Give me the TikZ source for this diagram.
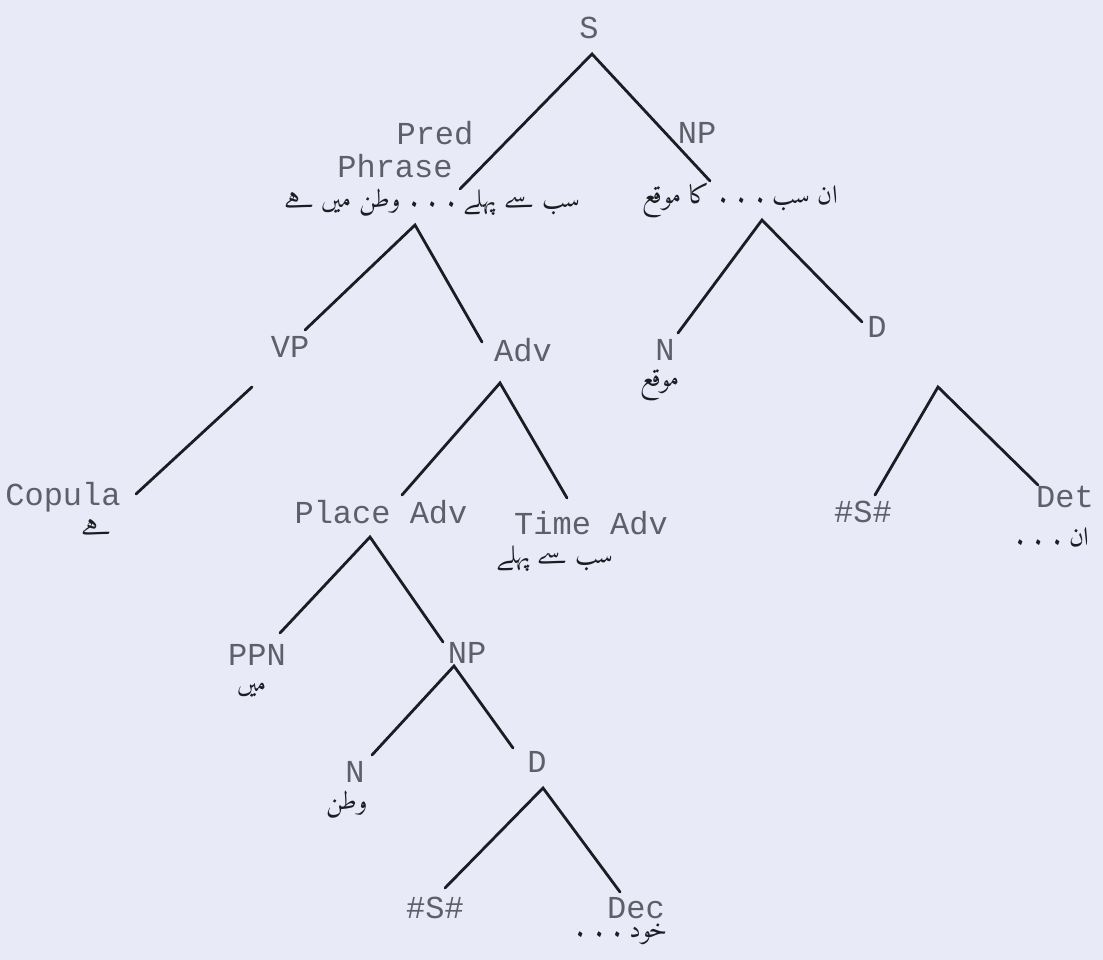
\documentclass[tikz,border=0pt]{standalone}
\usepackage{fontspec}
\TeXXeTstate=1
\newfontfamily\labfont{Liberation Mono}
\IfFontExistsTF{Amiri}{\newfontfamily\urfont[Script=Arabic]{Amiri}}{%
 \IfFontExistsTF{Scheherazade New}{\newfontfamily\urfont[Script=Arabic]{Scheherazade New}}{%
  \IfFontExistsTF{Noto Naskh Arabic}{\newfontfamily\urfont[Script=Arabic]{Noto Naskh Arabic}}{%
   \newfontfamily\urfont[Script=Arabic]{DejaVu Sans}}}}
\definecolor{bgcol}{RGB}{232,234,248}
\definecolor{txtcol}{RGB}{95,95,105}
\definecolor{lncol}{RGB}{28,28,35}
\tikzset{
  lab/.style={font=\labfont\fontsize{32}{34}\selectfont, text=txtcol, inner sep=0pt},
  ur/.style={font=\urfont\fontsize{26}{28}\selectfont, text=lncol, inner sep=0pt},
  branch/.style={line width=2.8pt, draw=lncol, line cap=round}
}
\begin{document}
\begin{tikzpicture}[x=1pt,y=-1pt]
\fill[bgcol] (0,0) rectangle (1103,960);
\useasboundingbox (0,0) rectangle (1103,960);
% labels
\node[lab] (S) at (589,28) {S};
\node[lab] (predA) at (435,133) {Pred};
\node[lab] (predB) at (395,166) {Phrase};
\node[lab] (NPa) at (697,133) {NP};
\node[ur] (uPP) at (432,203) {\beginR سب سے پہلے . . . وطن میں ہے\endR};
\node[ur] (uNP) at (740,200) {\beginR ان سب . . . کا موقع\endR};
\node[lab] (VP) at (290,347) {VP};
\node[lab] (Adv) at (523,350) {Adv};
\node[lab] (Na) at (665,350) {N};
\node[ur] (uNa) at (660,385) {\beginR موقع\endR};
\node[lab] (Da) at (877,327) {D};
\node[lab] (Cop) at (63,497) {Copula};
\node[ur] (uCop) at (97,527) {\beginR ہے\endR};
\node[lab] (PlAdv) at (381,512) {Place Adv};
\node[lab] (TmAdv) at (591,523) {Time Adv};
\node[ur] (uTm) at (555,558) {\beginR سب سے پہلے\endR};
\node[lab] (Sa) at (863,512) {\#S\#};
\node[lab] (Det) at (1065,497) {Det};
\node[ur] (uDet) at (1053,537) {\beginR ان . . .\endR};
\node[lab] (PPN) at (257,655) {PPN};
\node[ur] (uPPN) at (252,690) {\beginR میں\endR};
\node[lab] (NPb) at (467,653) {NP};
\node[lab] (Nb) at (355,772) {N};
\node[ur] (uNb) at (347,805) {\beginR وطن\endR};
\node[lab] (Db) at (537,762) {D};
\node[lab] (Sb) at (435,908) {\#S\#};
\node[lab] (Dec) at (636,908) {Dec};
\node[ur] (uDec) at (622,934) {\beginR خود . . .\endR};
% apex and end coordinates
\coordinate (aS) at (592,54);
\coordinate (ePP) at (460,189);
\coordinate (eNPa) at (710,181);
\coordinate (aPP) at (415,225);
\coordinate (eVP) at (305,330);
\coordinate (eAdv) at (482,342);
\coordinate (aNPa) at (762,220);
\coordinate (eNa) at (678,333);
\coordinate (eDa) at (862,322);
\coordinate (aVP) at (252,387);
\coordinate (eCop) at (136,494);
\coordinate (aAdv) at (500,383);
\coordinate (ePl) at (402,495);
\coordinate (eTm) at (567,498);
\coordinate (aDa) at (938,387);
\coordinate (eSa) at (875,495);
\coordinate (eDet) at (1038,485);
\coordinate (aPl) at (370,537);
\coordinate (ePPN) at (280,633);
\coordinate (eNPb) at (443,642);
\coordinate (aNPb) at (454,666);
\coordinate (eNb) at (372,755);
\coordinate (eDb) at (513,748);
\coordinate (aDb) at (543,788);
\coordinate (eSb) at (445,888);
\coordinate (eDec) at (620,892);
% branches
\draw[branch] (ePP) -- (aS) -- (eNPa);
\draw[branch] (eVP) -- (aPP) -- (eAdv);
\draw[branch] (eNa) -- (aNPa) -- (eDa);
\draw[branch] (aVP) -- (eCop);
\draw[branch] (ePl) -- (aAdv) -- (eTm);
\draw[branch] (eSa) -- (aDa) -- (eDet);
\draw[branch] (ePPN) -- (aPl) -- (eNPb);
\draw[branch] (eNb) -- (aNPb) -- (eDb);
\draw[branch] (eSb) -- (aDb) -- (eDec);
\end{tikzpicture}
\end{document}
